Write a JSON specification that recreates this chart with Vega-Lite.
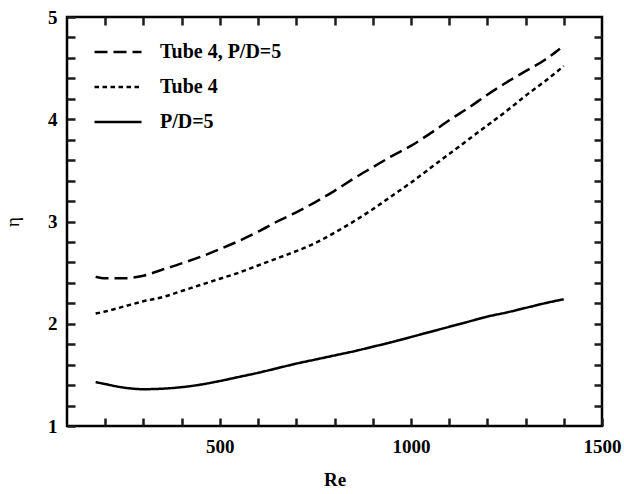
{
  "$schema": "https://vega.github.io/schema/vega-lite/v6.json",
  "width": 535,
  "height": 409,
  "autosize": {"type": "none"},
  "padding": {"left": 67, "top": 17, "right": 22, "bottom": 68},
  "background": "white",
  "config": {
    "view": {"stroke": "black", "strokeWidth": 2.5},
    "font": "Liberation Serif",
    "axis": {
      "domain": false, "grid": false,
      "labelFont": "Liberation Serif", "labelFontWeight": 700, "labelFontSize": 19, "labelColor": "black",
      "labelFlush": false, "labelOverlap": false,
      "titleFont": "Liberation Serif", "titleFontSize": 19, "titleColor": "black"
    }
  },
  "data": {"values": [
    {"series": "Tube 4, P/D=5", "Re": 175, "eta": 2.46},
    {"series": "Tube 4, P/D=5", "Re": 200, "eta": 2.445},
    {"series": "Tube 4, P/D=5", "Re": 250, "eta": 2.445},
    {"series": "Tube 4, P/D=5", "Re": 300, "eta": 2.47},
    {"series": "Tube 4, P/D=5", "Re": 350, "eta": 2.53},
    {"series": "Tube 4, P/D=5", "Re": 400, "eta": 2.59},
    {"series": "Tube 4, P/D=5", "Re": 450, "eta": 2.655},
    {"series": "Tube 4, P/D=5", "Re": 500, "eta": 2.73},
    {"series": "Tube 4, P/D=5", "Re": 550, "eta": 2.81},
    {"series": "Tube 4, P/D=5", "Re": 600, "eta": 2.9},
    {"series": "Tube 4, P/D=5", "Re": 650, "eta": 3.0},
    {"series": "Tube 4, P/D=5", "Re": 700, "eta": 3.09},
    {"series": "Tube 4, P/D=5", "Re": 750, "eta": 3.19},
    {"series": "Tube 4, P/D=5", "Re": 800, "eta": 3.3},
    {"series": "Tube 4, P/D=5", "Re": 850, "eta": 3.42},
    {"series": "Tube 4, P/D=5", "Re": 900, "eta": 3.53},
    {"series": "Tube 4, P/D=5", "Re": 950, "eta": 3.64},
    {"series": "Tube 4, P/D=5", "Re": 1000, "eta": 3.74},
    {"series": "Tube 4, P/D=5", "Re": 1050, "eta": 3.86},
    {"series": "Tube 4, P/D=5", "Re": 1100, "eta": 3.99},
    {"series": "Tube 4, P/D=5", "Re": 1150, "eta": 4.11},
    {"series": "Tube 4, P/D=5", "Re": 1200, "eta": 4.24},
    {"series": "Tube 4, P/D=5", "Re": 1250, "eta": 4.36},
    {"series": "Tube 4, P/D=5", "Re": 1300, "eta": 4.47},
    {"series": "Tube 4, P/D=5", "Re": 1350, "eta": 4.58},
    {"series": "Tube 4, P/D=5", "Re": 1390, "eta": 4.69},
    {"series": "Tube 4", "Re": 175, "eta": 2.1},
    {"series": "Tube 4", "Re": 200, "eta": 2.12},
    {"series": "Tube 4", "Re": 250, "eta": 2.17},
    {"series": "Tube 4", "Re": 300, "eta": 2.22},
    {"series": "Tube 4", "Re": 350, "eta": 2.26},
    {"series": "Tube 4", "Re": 400, "eta": 2.32},
    {"series": "Tube 4", "Re": 450, "eta": 2.38},
    {"series": "Tube 4", "Re": 500, "eta": 2.44},
    {"series": "Tube 4", "Re": 550, "eta": 2.5},
    {"series": "Tube 4", "Re": 600, "eta": 2.57},
    {"series": "Tube 4", "Re": 650, "eta": 2.64},
    {"series": "Tube 4", "Re": 700, "eta": 2.71},
    {"series": "Tube 4", "Re": 750, "eta": 2.79},
    {"series": "Tube 4", "Re": 800, "eta": 2.89},
    {"series": "Tube 4", "Re": 850, "eta": 3.0},
    {"series": "Tube 4", "Re": 900, "eta": 3.12},
    {"series": "Tube 4", "Re": 950, "eta": 3.25},
    {"series": "Tube 4", "Re": 1000, "eta": 3.38},
    {"series": "Tube 4", "Re": 1050, "eta": 3.52},
    {"series": "Tube 4", "Re": 1100, "eta": 3.66},
    {"series": "Tube 4", "Re": 1150, "eta": 3.8},
    {"series": "Tube 4", "Re": 1200, "eta": 3.94},
    {"series": "Tube 4", "Re": 1250, "eta": 4.08},
    {"series": "Tube 4", "Re": 1300, "eta": 4.23},
    {"series": "Tube 4", "Re": 1350, "eta": 4.37},
    {"series": "Tube 4", "Re": 1400, "eta": 4.52},
    {"series": "P/D=5", "Re": 175, "eta": 1.43},
    {"series": "P/D=5", "Re": 200, "eta": 1.41},
    {"series": "P/D=5", "Re": 250, "eta": 1.375},
    {"series": "P/D=5", "Re": 300, "eta": 1.36},
    {"series": "P/D=5", "Re": 350, "eta": 1.365},
    {"series": "P/D=5", "Re": 400, "eta": 1.38},
    {"series": "P/D=5", "Re": 450, "eta": 1.405},
    {"series": "P/D=5", "Re": 500, "eta": 1.44},
    {"series": "P/D=5", "Re": 550, "eta": 1.48},
    {"series": "P/D=5", "Re": 600, "eta": 1.52},
    {"series": "P/D=5", "Re": 650, "eta": 1.565},
    {"series": "P/D=5", "Re": 700, "eta": 1.61},
    {"series": "P/D=5", "Re": 750, "eta": 1.65},
    {"series": "P/D=5", "Re": 800, "eta": 1.69},
    {"series": "P/D=5", "Re": 850, "eta": 1.73},
    {"series": "P/D=5", "Re": 900, "eta": 1.775},
    {"series": "P/D=5", "Re": 950, "eta": 1.82},
    {"series": "P/D=5", "Re": 1000, "eta": 1.87},
    {"series": "P/D=5", "Re": 1050, "eta": 1.92},
    {"series": "P/D=5", "Re": 1100, "eta": 1.97},
    {"series": "P/D=5", "Re": 1150, "eta": 2.02},
    {"series": "P/D=5", "Re": 1200, "eta": 2.07},
    {"series": "P/D=5", "Re": 1250, "eta": 2.11},
    {"series": "P/D=5", "Re": 1300, "eta": 2.155},
    {"series": "P/D=5", "Re": 1350, "eta": 2.2},
    {"series": "P/D=5", "Re": 1400, "eta": 2.24}
  ]},
  "layer": [
    {
      "mark": {"type": "line", "color": "black", "strokeWidth": 2.5, "interpolate": "monotone"},
      "encoding": {
        "x": {
          "field": "Re", "type": "quantitative",
          "scale": {"domain": [100, 1500], "nice": false, "zero": false},
          "axis": {
            "values": [200, 300, 400, 500, 600, 700, 800, 900, 1000, 1100, 1200, 1300, 1400, 1500],
            "labelExpr": "datum.value % 500 === 0 ? toString(datum.value) : ''",
            "offset": -8, "ticks": true, "tickSize": 8, "tickColor": "#1a1a1a", "tickWidth": 2.5,
            "labelPadding": 11.5,
            "title": "Re", "titleFontWeight": "bold", "titlePadding": 14
          }
        },
        "y": {
          "field": "eta", "type": "quantitative",
          "scale": {"domain": [1, 5], "nice": false, "zero": false},
          "axis": {
            "values": [1, 1.2, 1.4, 1.6, 1.8, 2, 2.2, 2.4, 2.6, 2.8, 3, 3.2, 3.4, 3.6, 3.8, 4, 4.2, 4.4, 4.6, 4.8, 5],
            "labelExpr": "datum.value % 1 === 0 ? toString(datum.value) : ''",
            "offset": -8, "ticks": true, "tickSize": 8, "tickColor": "#1a1a1a", "tickWidth": 2.5,
            "labelPadding": 10,
            "title": "η", "titleFontWeight": "normal", "titlePadding": 25
          }
        },
        "strokeDash": {
          "field": "series", "type": "nominal",
          "scale": {"domain": ["Tube 4, P/D=5", "Tube 4", "P/D=5"], "range": [[13, 6], [4.5, 3.5], [1, 0]]},
          "legend": {
            "orient": "none", "legendX": 26, "legendY": 10, "title": null,
            "symbolType": "stroke", "symbolSize": 2209, "symbolStrokeWidth": 2.5, "symbolStrokeColor": "black",
            "labelFont": "Liberation Serif", "labelFontWeight": "bold", "labelFontSize": 20, "labelColor": "black",
            "labelOffset": 17, "rowPadding": -35.5
          }
        }
      }
    },
    {
      "mark": {"type": "line", "opacity": 0},
      "encoding": {
        "x": {
          "field": "Re", "type": "quantitative",
          "axis": {
            "orient": "top", "offset": -8, "ticks": true, "tickSize": 8, "tickColor": "#1a1a1a", "tickWidth": 2.5,
            "values": [200, 300, 400, 500, 600, 700, 800, 900, 1000, 1100, 1200, 1300, 1400],
            "labels": false, "title": null
          }
        },
        "y": {
          "field": "eta", "type": "quantitative",
          "axis": {
            "orient": "right", "offset": -8, "ticks": true, "tickSize": 8, "tickColor": "#1a1a1a", "tickWidth": 2.5,
            "values": [1.2, 1.4, 1.6, 1.8, 2, 2.2, 2.4, 2.6, 2.8, 3, 3.2, 3.4, 3.6, 3.8, 4, 4.2, 4.4, 4.6, 4.8],
            "labels": false, "title": null
          }
        },
        "detail": {"field": "series", "type": "nominal"}
      }
    }
  ],
  "resolve": {"axis": {"x": "independent", "y": "independent"}}
}
